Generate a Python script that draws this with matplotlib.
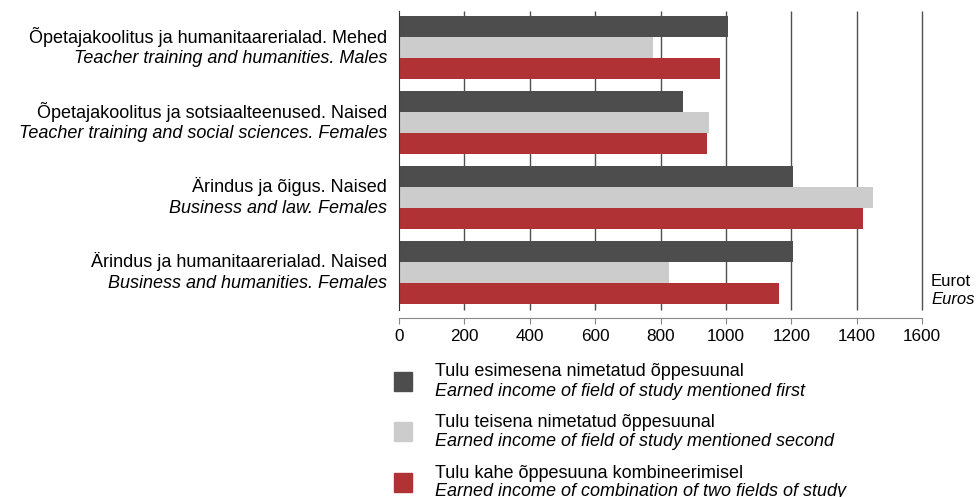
import matplotlib.pyplot as plt
import matplotlib.transforms as mtransforms
from matplotlib.patches import Rectangle

plt.rcParams['font.family'] = ['Liberation Sans', 'DejaVu Sans']

# categories (top to bottom)
cat_et = ["Õpetajakoolitus ja humanitaarerialad. Mehed",
          "Õpetajakoolitus ja sotsiaalteenused. Naised",
          "Ärindus ja õigus. Naised",
          "Ärindus ja humanitaarerialad. Naised"]
cat_en = ["Teacher training and humanities. Males",
          "Teacher training and social sciences. Females",
          "Business and law. Females",
          "Business and humanities. Females"]

first = [1005, 869, 1204, 1204]
second = [776, 947, 1449, 825]
combined = [982, 941, 1421, 1164]

series_et = ["Tulu esimesena nimetatud õppesuunal",
             "Tulu teisena nimetatud õppesuunal",
             "Tulu kahe õppesuuna kombineerimisel"]
series_en = ["Earned income of field of study mentioned first",
             "Earned income of field of study mentioned second",
             "Earned income of combination of two fields of study"]
colors = ["#4d4d4d", "#cccccc", "#b13235"]

xticks = [0, 200, 400, 600, 800, 1000, 1200, 1400, 1600]

fs = 13
W, H = 980, 497
fig = plt.figure(figsize=(W / 100, H / 100), dpi=100)
ax = fig.add_axes([399 / W, (H - 310) / H, 523 / W, 299 / H])

bh = 0.28
ypos = list(range(len(cat_et)))
for i, vals in enumerate([first, second, combined]):
    ax.barh([y + (i - 1) * bh for y in ypos], vals, height=bh,
            color=colors[i], zorder=2)

ax.set_xlim(0, 1600)
ax.set_ylim(3.494, -0.493)
ax.set_xticks(xticks)
ax.set_yticks([])
# vertical grid lines (drawn unclipped so the 1600 line is full width)
ax.vlines(xticks[1:], 0, 1, transform=ax.get_xaxis_transform(),
          color='#505050', linewidth=1, zorder=0, clip_on=False)

for s in ['top', 'right']:
    ax.spines[s].set_visible(False)
ax.spines['left'].set_color('#333333')
ax.spines['left'].set_zorder(3)
ax.spines['bottom'].set_position(('outward', 6))
ax.spines['bottom'].set_color('#888888')
ax.tick_params(axis='x', color='#888888', length=4, pad=4,
               labelcolor='black', labelsize=12.3)

# category labels
for y, et, en in zip(ypos, cat_et, cat_en):
    t1 = mtransforms.offset_copy(ax.transData, fig=fig, x=-12, y=11, units='dots')
    t2 = mtransforms.offset_copy(ax.transData, fig=fig, x=-12, y=-11, units='dots')
    ax.text(0, y, et, transform=t1, ha='right', va='center', fontsize=fs)
    ax.text(0, y, en, transform=t2, ha='right', va='center', fontsize=fs,
            style='italic')

# unit label
fig.text(931 / W, 1 - 282 / H, "Eurot", ha='left', va='center', fontsize=12)
fig.text(931 / W, 1 - 300 / H, "Euros", ha='left', va='center', fontsize=12,
         style='italic')

# legend
for i in range(3):
    cy = 381 + i * 50.5
    fig.patches.append(Rectangle((394 / W, 1 - (cy + 9.5) / H), 18 / W, 19 / H,
                                 transform=fig.transFigure, color=colors[i]))
    fig.text(435 / W, 1 - (cy - 9) / H, series_et[i], ha='left', va='center',
             fontsize=fs)
    fig.text(435 / W, 1 - (cy + 10) / H, series_en[i], ha='left', va='center',
             fontsize=fs, style='italic')

fig.savefig("out.png", dpi=100)
